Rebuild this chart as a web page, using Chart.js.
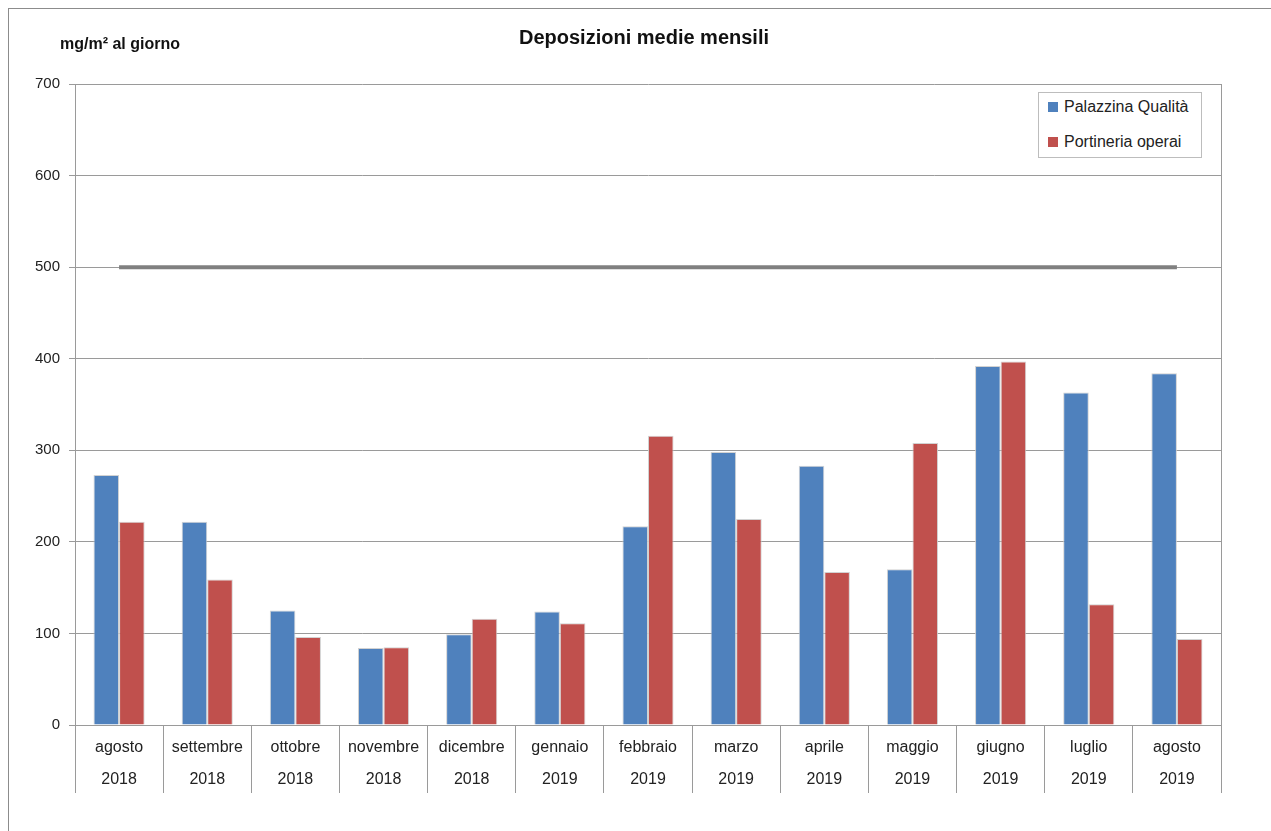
<!DOCTYPE html>
<html lang="it">
<head>
<meta charset="utf-8">
<title>Deposizioni medie mensili</title>
<script src="https://cdn.jsdelivr.net/npm/chart.js@4"></script>
<style>
  html, body { margin: 0; padding: 0; background: #fff; }
  #wrap { position: relative; width: 1271px; height: 831px; overflow: hidden; }
  #frame {
    position: absolute; left: 8px; top: 8px; width: 1400px; height: 900px;
    border-left: 1px solid #8c8c8c; border-top: 1px solid #8c8c8c;
    pointer-events: none;
  }
  #legend {
    position: absolute; left: 1038px; top: 92px; width: 162px; height: 64px;
    border: 1px solid #bdbdbd; background: #fff;
    font-family: "Liberation Sans", Arial, sans-serif; font-size: 16px; color: #222;
  }
  #legend .item { position: absolute; left: 9px; display: flex; align-items: center; white-space: nowrap; }
  #legend .swatch { width: 10px; height: 10px; margin-right: 6px; }
</style>
</head>
<body>
<div id="wrap">
  <canvas id="chart" width="1271" height="831"></canvas>
  <div id="frame"></div>
  <div id="legend"></div>
</div>
<script>
const months = ['agosto', 'settembre', 'ottobre', 'novembre', 'dicembre', 'gennaio', 'febbraio',
  'marzo', 'aprile', 'maggio', 'giugno', 'luglio', 'agosto'];
const years = ['2018', '2018', '2018', '2018', '2018', '2019', '2019',
  '2019', '2019', '2019', '2019', '2019', '2019'];

// mg/m2 al giorno
const palazzina = [273, 222, 125, 84, 99, 124, 217, 298, 283, 170, 392, 363, 384];
const portineria = [222, 159, 96, 85, 116, 111, 316, 225, 167, 308, 397, 132, 94];
const limite = 500;

const yTicks = [0, 100, 200, 300, 400, 500, 600, 700];

const labels = months.map((m, i) => [m, years[i]]);
const FONT = '"Liberation Sans", Arial, sans-serif';

// y axis unit written above the axis
const unitLabel = {
  id: 'unitLabel',
  afterDraw(chart) {
    const { ctx, chartArea } = chart;
    ctx.save();
    ctx.font = 'bold 16px ' + FONT;
    ctx.fillStyle = '#111';
    ctx.textBaseline = 'middle';
    ctx.textAlign = 'left';
    ctx.fillText('mg/m² al giorno', chartArea.left - 15, chartArea.top - 39);
    ctx.restore();
  }
};

const chart = new Chart(document.getElementById('chart'), {
  type: 'bar',
  data: {
    labels: labels,
    datasets: [
      {
        label: 'Palazzina Qualità',
        data: palazzina,
        backgroundColor: '#4f81bd',
        borderColor: 'rgba(205, 205, 205, 0.9)',
        borderWidth: 1,
        order: 2,
      },
      {
        label: 'Portineria operai',
        data: portineria,
        backgroundColor: '#c0504d',
        borderColor: 'rgba(205, 205, 205, 0.9)',
        borderWidth: 1,
        order: 2,
      },
      {
        type: 'line',
        label: 'Limite',
        data: months.map(() => limite),
        borderColor: '#808080',
        borderWidth: 4,
        pointRadius: 0,
        fill: false,
        order: 1,
      },
    ],
  },
  options: {
    responsive: false,
    animation: false,
    events: [],
    layout: { padding: { left: 17, right: 0, top: 0, bottom: 0 } },
    datasets: {
      bar: { categoryPercentage: 0.58, barPercentage: 1 },
    },
    plugins: {
      legend: { display: false },
      tooltip: { enabled: false },
      title: {
        display: true,
        text: 'Deposizioni medie mensili',
        color: '#111',
        font: { family: FONT, size: 20, weight: 'bold', lineHeight: 1.2 },
        padding: { top: 26, bottom: 34 },
      },
    },
    scales: {
      x: {
        offset: true,
        afterFit: s => { s.height = 106; },
        grid: {
          offset: true,
          drawOnChartArea: false,
          drawTicks: true,
          tickLength: 68,
          color: '#9a9a9a',
        },
        border: { display: true, color: '#9a9a9a' },
        ticks: {
          autoSkip: false,
          maxRotation: 0,
          padding: -61,
          color: '#222',
          font: { family: FONT, size: 16, lineHeight: 2.0 },
        },
      },
      y: {
        min: 0,
        max: 700,
        afterFit: s => { s.width = 58; },
        afterBuildTicks: s => { s.ticks = yTicks.map(v => ({ value: v })); },
        grid: { color: '#9a9a9a', tickLength: 6 },
        border: { display: true, color: '#9a9a9a' },
        ticks: {
          padding: 9,
          color: '#222',
          font: { family: FONT, size: 15 },
        },
      },
      y2: {
        position: 'right',
        min: 0,
        max: 700,
        afterFit: s => { s.width = 50; },
        grid: { drawOnChartArea: false, drawTicks: false },
        border: { display: true, color: '#9a9a9a' },
        ticks: { display: false },
      },
    },
  },
  plugins: [unitLabel],
});

// legend box inside the plot, top right
const legendEl = document.getElementById('legend');
chart.data.datasets.filter(d => d.type !== 'line').forEach((d, i) => {
  const item = document.createElement('div');
  item.className = 'item';
  item.style.top = (i === 0 ? 5 : 40) + 'px';
  item.innerHTML = `<span class="swatch" style="background:${d.backgroundColor}"></span><span>${d.label}</span>`;
  legendEl.appendChild(item);
});
</script>
</body>
</html>
